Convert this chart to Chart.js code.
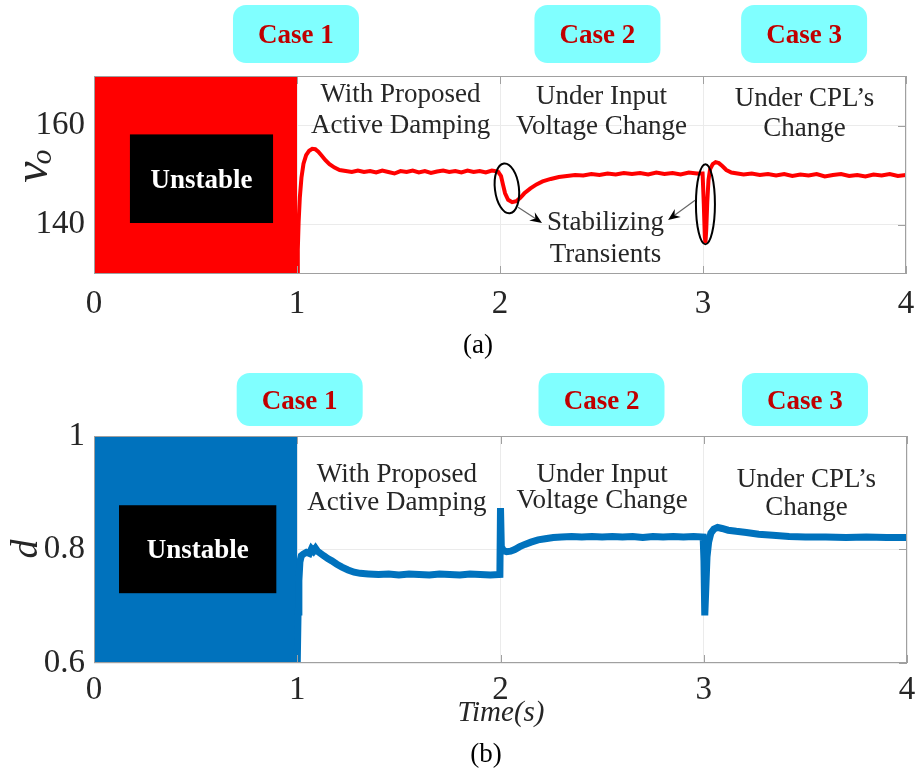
<!DOCTYPE html>
<html lang="en">
<head>
<meta charset="UTF-8">
<title>Output voltage and duty ratio with active damping</title>
<script src="https://cdn.jsdelivr.net/npm/chart.js@4/dist/chart.umd.min.js"></script>
<style>
  body { margin: 0; background: #fff; }
  .panel { position: absolute; left: 0; }
</style>
</head>
<body>
<div class="panel" style="top:0"><canvas id="chartA" width="919" height="365"></canvas></div>
<div class="panel" style="top:365px"><canvas id="chartB" width="919" height="406"></canvas></div>

<script>
// ---- data ----
const xTicks = [0, 1, 2, 3, 4];
const voTicks = [140, 160];
const dTicks = [0.6, 0.8, 1];

// 0..1 s: unstable, trace saturates the whole axis
const unstableTime = [0, 1];
const voUnstable = [170, 170];
const dUnstable = [1, 1];

// (a) output voltage v_o once damping is on
const voTime = [1.000, 1.004, 1.008, 1.014, 1.022, 1.032, 1.045, 1.060, 1.075, 1.090,
  1.105, 1.120, 1.140, 1.160, 1.185, 1.210, 1.240, 1.270, 1.300, 1.330,
  1.360, 1.390, 1.420, 1.450, 1.480, 1.510, 1.540, 1.570, 1.600, 1.630,
  1.660, 1.690, 1.720, 1.750, 1.780, 1.810, 1.840, 1.870, 1.900, 1.930,
  1.960, 1.990, 2.005, 2.015, 2.025, 2.040, 2.060, 2.080, 2.100, 2.120,
  2.150, 2.180, 2.210, 2.250, 2.290, 2.330, 2.370, 2.410, 2.450, 2.490,
  2.530, 2.570, 2.610, 2.650, 2.690, 2.730, 2.770, 2.810, 2.850, 2.890,
  2.930, 2.970, 2.998, 3.004, 3.009, 3.012, 3.016, 3.021, 3.027, 3.035,
  3.048, 3.062, 3.078, 3.095, 3.115, 3.140, 3.170, 3.200, 3.240, 3.280,
  3.320, 3.360, 3.400, 3.440, 3.480, 3.520, 3.560, 3.600, 3.640, 3.680,
  3.720, 3.760, 3.800, 3.840, 3.880, 3.920, 3.960, 4.000];
const voValues = [130.0, 135.0, 140.5, 145.5, 149.5, 152.3, 154.0, 154.9, 155.3, 155.2,
  154.7, 154.0, 153.0, 152.2, 151.5, 151.0, 150.8, 150.6, 150.9, 150.6,
  150.8, 150.5, 150.9, 150.6, 150.3, 150.8, 150.6, 150.9, 150.5, 150.8,
  150.4, 150.7, 150.9, 150.6, 150.8, 150.5, 150.9, 150.6, 150.8, 150.5,
  150.9, 150.7, 149.8, 148.0, 146.3, 145.0, 144.5, 144.7, 145.4, 146.3,
  147.3, 148.1, 148.7, 149.2, 149.6, 149.8, 150.0, 149.9, 150.2, 150.0,
  150.3, 150.1, 150.4, 150.2, 150.4, 150.1, 150.5, 150.2, 150.4, 150.1,
  150.5, 150.3, 150.3, 144.0, 137.5, 136.3, 139.0, 144.5, 149.0, 151.2,
  152.2, 152.6, 152.4, 151.8, 151.0, 150.5, 150.3, 150.1, 150.3, 150.0,
  150.2, 149.9, 150.2, 149.8, 150.1, 149.9, 150.2, 149.7, 150.0, 150.2,
  149.8, 150.0, 149.7, 150.1, 149.9, 150.2, 149.8, 150.0];

// (b) duty ratio d once damping is on
const dTime = [1.000, 1.004, 1.008, 1.013, 1.020, 1.030, 1.045, 1.060, 1.070, 1.080,
  1.090, 1.100, 1.115, 1.130, 1.150, 1.170, 1.195, 1.220, 1.250, 1.280,
  1.310, 1.350, 1.400, 1.450, 1.500, 1.550, 1.600, 1.650, 1.700, 1.750,
  1.800, 1.850, 1.900, 1.950, 1.997, 2.000, 2.004, 2.015, 2.030, 2.050,
  2.070, 2.095, 2.120, 2.150, 2.185, 2.220, 2.260, 2.300, 2.350, 2.400,
  2.450, 2.500, 2.550, 2.600, 2.650, 2.700, 2.750, 2.800, 2.850, 2.900,
  2.950, 2.997, 3.001, 3.005, 3.010, 3.016, 3.024, 3.035, 3.050, 3.068,
  3.090, 3.120, 3.160, 3.210, 3.270, 3.340, 3.420, 3.500, 3.600, 3.700,
  3.800, 3.900, 4.000];
const dValues = [0.600, 0.690, 0.745, 0.778, 0.789, 0.792, 0.795, 0.793, 0.801, 0.797,
  0.802, 0.797, 0.793, 0.789, 0.784, 0.780, 0.774, 0.769, 0.764, 0.760,
  0.758, 0.757, 0.756, 0.757, 0.755, 0.757, 0.756, 0.755, 0.757, 0.756,
  0.755, 0.757, 0.756, 0.755, 0.756, 0.873, 0.805, 0.798, 0.796, 0.797,
  0.800, 0.805, 0.809, 0.813, 0.817, 0.819, 0.821, 0.822, 0.823, 0.822,
  0.823, 0.822, 0.823, 0.822, 0.823, 0.821, 0.823, 0.822, 0.823, 0.822,
  0.823, 0.822, 0.780, 0.684, 0.730, 0.787, 0.813, 0.829, 0.836, 0.839,
  0.837, 0.834, 0.832, 0.830, 0.827, 0.825, 0.823, 0.822, 0.822, 0.821,
  0.822, 0.821, 0.821];

// ---- drawing ----
Chart.defaults.font.family = "'Liberation Serif', 'Times New Roman', serif";
Chart.defaults.color = '#262626';

const axisGrey = '#a0a0a0';
const gridGrey = '#ebebeb';
const textGrey = '#262626';

function pts(xs, ys) {
  return xs.map((t, i) => ({ x: t, y: ys[i] }));
}

// annotations, case boxes, labels drawn on top of each panel
function decor(spec) {
  return {
    id: 'decor',
    afterDatasetsDraw(chart) {
      const { ctx, chartArea: a, scales: { x, y } } = chart;
      ctx.save();

      // MATLAB style box with inward ticks
      ctx.strokeStyle = axisGrey;
      ctx.lineWidth = 1;
      ctx.strokeRect(a.left + 0.5, a.top + 0.5, a.right - a.left - 1, a.bottom - a.top - 1);
      ctx.beginPath();
      x.ticks.forEach(tk => {
        const px = Math.round(x.getPixelForValue(tk.value)) + 0.5;
        ctx.moveTo(px, a.top); ctx.lineTo(px, a.top + 8);
        ctx.moveTo(px, a.bottom); ctx.lineTo(px, a.bottom - 8);
      });
      y.ticks.forEach(tk => {
        const py = Math.round(y.getPixelForValue(tk.value)) + 0.5;
        ctx.moveTo(a.right, py); ctx.lineTo(a.right - 8, py);
      });
      ctx.stroke();

      // black "Unstable" label
      const bx0 = x.getPixelForValue(spec.box[0]), bx1 = x.getPixelForValue(spec.box[1]);
      const by0 = y.getPixelForValue(spec.box[2]), by1 = y.getPixelForValue(spec.box[3]);
      ctx.fillStyle = '#000';
      ctx.fillRect(bx0, by0, bx1 - bx0, by1 - by0);
      ctx.fillStyle = '#fff';
      ctx.font = "bold 27px 'Liberation Serif'";
      ctx.textAlign = 'center';
      ctx.textBaseline = 'alphabetic';
      ctx.fillText('Unstable', (bx0 + bx1) / 2, (by0 + by1) / 2 + 9);

      // notes
      ctx.fillStyle = textGrey;
      ctx.font = "27px 'Liberation Serif'";
      spec.notes.forEach(n => ctx.fillText(n.text, x.getPixelForValue(n.t), y.getPixelForValue(n.v)));

      // ellipses round the transients
      ctx.strokeStyle = '#000';
      ctx.lineWidth = 2;
      (spec.ellipses || []).forEach(e => {
        ctx.beginPath();
        ctx.ellipse(x.getPixelForValue(e.t), y.getPixelForValue(e.v), e.rx, e.ry, e.rot, 0, Math.PI * 2);
        ctx.stroke();
      });

      // arrows
      (spec.arrows || []).forEach(ar => {
        const x0 = x.getPixelForValue(ar.from[0]), y0 = y.getPixelForValue(ar.from[1]);
        const x1 = x.getPixelForValue(ar.to[0]), y1 = y.getPixelForValue(ar.to[1]);
        const ang = Math.atan2(y1 - y0, x1 - x0);
        ctx.strokeStyle = '#666';
        ctx.lineWidth = 1.2;
        ctx.beginPath(); ctx.moveTo(x0, y0); ctx.lineTo(x1 - 8 * Math.cos(ang), y1 - 8 * Math.sin(ang)); ctx.stroke();
        ctx.fillStyle = '#000';
        ctx.beginPath();
        ctx.moveTo(x1, y1);
        ctx.lineTo(x1 - 12 * Math.cos(ang) + 5 * Math.sin(ang), y1 - 12 * Math.sin(ang) - 5 * Math.cos(ang));
        ctx.lineTo(x1 - 8 * Math.cos(ang), y1 - 8 * Math.sin(ang));
        ctx.lineTo(x1 - 12 * Math.cos(ang) - 5 * Math.sin(ang), y1 - 12 * Math.sin(ang) + 5 * Math.cos(ang));
        ctx.closePath();
        ctx.fill();
      });
      ctx.restore();
    },
    afterDraw(chart) {
      const { ctx, chartArea: a, scales: { x } } = chart;
      ctx.save();
      // cyan case boxes above the axes
      spec.cases.forEach((c, i) => {
        const cx = x.getPixelForValue(c);
        const top = a.top - spec.caseTop, h = spec.caseH;
        ctx.fillStyle = '#80ffff';
        ctx.beginPath();
        ctx.roundRect(cx - 63, top, 126, h, 13);
        ctx.fill();
        ctx.fillStyle = '#c00000';
        ctx.font = "bold 27px 'Liberation Serif'";
        ctx.textAlign = 'center';
        ctx.textBaseline = 'alphabetic';
        ctx.fillText('Case ' + (i + 1), cx, top + h / 2 + 9);
      });
      spec.titles(ctx);
      ctx.restore();
    }
  };
}

function xAxis(height, pad) {
  return {
    type: 'linear', min: 0, max: 4,
    afterBuildTicks: s => { s.ticks = xTicks.map(v => ({ value: v })); },
    ticks: { padding: pad, font: { size: 33 }, color: textGrey },
    grid: { color: gridGrey, drawTicks: false },
    border: { display: false },
    // keep the plot edges fixed: no extra room for the end labels
    afterFit: s => { s.height = height; s.paddingLeft = 0; s.paddingRight = 0; }
  };
}

function yAxis(min, max, ticks) {
  return {
    min: min, max: max,
    afterBuildTicks: s => { s.ticks = ticks.map(v => ({ value: v })); },
    ticks: { padding: 9, font: { size: 33 }, color: textGrey, callback: v => String(v) },
    grid: { color: gridGrey, drawTicks: false },
    border: { display: false },
    afterFit: s => { s.width = 94; s.paddingTop = 0; s.paddingBottom = 0; }
  };
}

const baseOptions = {
  responsive: false,
  animation: false,
  plugins: { legend: { display: false }, tooltip: { enabled: false } },
  elements: { point: { radius: 0 }, line: { tension: 0 } }
};

// (a) output voltage
new Chart(document.getElementById('chartA'), {
  type: 'line',
  data: {
    datasets: [
      { data: pts(voTime, voValues), borderColor: '#ff0000', borderWidth: 4, fill: false },
      { data: pts(unstableTime, voUnstable), borderWidth: 0, borderColor: '#ff0000', backgroundColor: '#ff0000', fill: 'start' }
    ]
  },
  options: Object.assign({}, baseOptions, {
    layout: { padding: { top: 76, right: 13, left: 0, bottom: 0 } },
    scales: { x: xAxis(91, 11), y: yAxis(130, 170, voTicks) }
  }),
  plugins: [decor({
    box: [0.177, 0.882, 158.2, 140.3],
    notes: [
      { text: 'With Proposed', t: 1.51, v: 164.83 },
      { text: 'Active Damping', t: 1.51, v: 158.45 },
      { text: 'Under Input', t: 2.50, v: 164.37 },
      { text: 'Voltage Change', t: 2.50, v: 158.33 },
      { text: 'Under CPL\u2019s', t: 3.50, v: 164.03 },
      { text: 'Change', t: 3.50, v: 157.78 },
      { text: 'Stabilizing', t: 2.52, v: 138.85 },
      { text: 'Transients', t: 2.52, v: 132.47 }
    ],
    ellipses: [
      { t: 2.034, v: 147.3, rx: 12, ry: 25, rot: -0.12 },
      { t: 3.012, v: 144.1, rx: 9.5, ry: 40, rot: 0 }
    ],
    arrows: [
      { from: [2.089, 143.5], to: [2.207, 140.3] },
      { from: [2.961, 144.9], to: [2.828, 140.9] }
    ],
    cases: [0.995, 2.48, 3.498],
    caseTop: 71, caseH: 58,
    titles: ctx => {
      ctx.fillStyle = textGrey;
      ctx.textAlign = 'center';
      ctx.textBaseline = 'alphabetic';
      ctx.save();
      ctx.translate(47, 172); ctx.rotate(-Math.PI / 2);
      ctx.font = "italic 48px 'Liberation Serif'";
      ctx.fillText('v', 0, 0);
      ctx.restore();
      ctx.save();
      ctx.translate(51, 157); ctx.rotate(-Math.PI / 2);
      ctx.font = "italic 30px 'Liberation Serif'";
      ctx.fillText('o', 0, 0);
      ctx.restore();
      ctx.fillStyle = '#000';
      ctx.font = "27px 'Liberation Serif'";
      ctx.fillText('(a)', 478, 353);
    }
  })]
});

// (b) duty ratio
new Chart(document.getElementById('chartB'), {
  type: 'line',
  data: {
    datasets: [
      { data: pts(dTime, dValues), borderColor: '#0072bd', borderWidth: 7, fill: false },
      { data: pts(unstableTime, dUnstable), borderWidth: 0, borderColor: '#0072bd', backgroundColor: '#0072bd', fill: 'start' }
    ]
  },
  options: Object.assign({}, baseOptions, {
    layout: { padding: { top: 71, right: 12, left: 0, bottom: 0 } },
    scales: { x: xAxis(108, 8), y: yAxis(0.6, 1, dTicks) }
  }),
  plugins: [decor({
    box: [0.123, 0.897, 0.878, 0.723],
    notes: [
      { text: 'With Proposed', t: 1.49, v: 0.9195 },
      { text: 'Active Damping', t: 1.49, v: 0.8696 },
      { text: 'Under Input', t: 2.50, v: 0.9195 },
      { text: 'Voltage Change', t: 2.50, v: 0.8726 },
      { text: 'Under CPL\u2019s', t: 3.505, v: 0.9107 },
      { text: 'Change', t: 3.505, v: 0.8608 }
    ],
    cases: [1.012, 2.497, 3.498],
    caseTop: 63, caseH: 53,
    titles: ctx => {
      ctx.fillStyle = textGrey;
      ctx.textAlign = 'center';
      ctx.textBaseline = 'alphabetic';
      ctx.save();
      ctx.translate(37, 184); ctx.rotate(-Math.PI / 2);
      ctx.font = "italic 38px 'Liberation Serif'";
      ctx.fillText('d', 0, 0);
      ctx.restore();
      ctx.font = "italic 29px 'Liberation Serif'";
      ctx.fillText('Time(s)', 501, 356);
      ctx.fillStyle = '#000';
      ctx.font = "27px 'Liberation Serif'";
      ctx.fillText('(b)', 486, 397);
    }
  })]
});
</script>
</body>
</html>
